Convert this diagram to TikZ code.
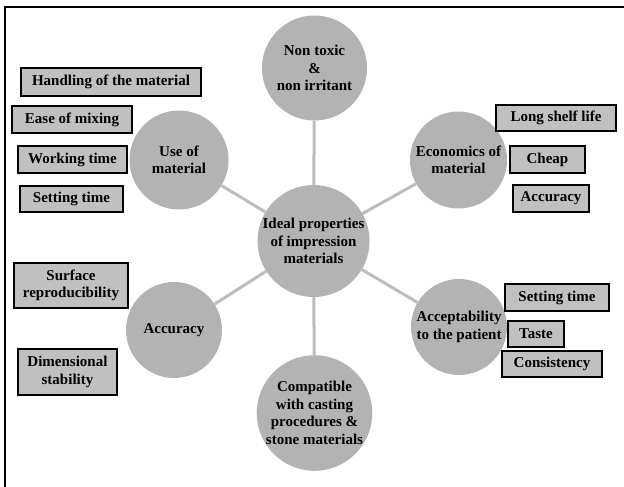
\documentclass[tikz,border=0pt]{standalone}
\usepackage{fontspec}
\setmainfont{Liberation Serif}[BoldFont={Liberation Serif Bold}]
\newfontfamily\tnrbold{Liberation Serif Bold}
\definecolor{circfill}{HTML}{B3B3B3}
\definecolor{boxfill}{HTML}{C0C0C0}
\definecolor{linkcol}{HTML}{BDBDBD}
\tikzset{
  bubble/.style={circle, fill=circfill, inner sep=0pt, align=center,
    font=\fontsize{15}{17.5}\selectfont\tnrbold},
  tag/.style={draw=black, line width=1.2pt, fill=boxfill, inner sep=0pt, align=center,
    font=\fontsize{15}{17.3}\selectfont\tnrbold},
  link/.style={draw=linkcol, line width=3pt}
}
\begin{document}
\begin{tikzpicture}[x=1pt,y=-1pt]
\useasboundingbox (0,0) rectangle (624,487);
\draw[line width=1.5pt] (5,487) coordinate (bl) -- (5,7) coordinate (tl) -- (624,7) coordinate (tr);

\node[bubble, minimum size=112pt] (c) at (313.5,241) {Ideal properties\\of impression\\materials};
\node[bubble, minimum size=105pt] (top) at (314.5,68) {Non toxic\\\&\\non irritant};
\node[bubble, minimum size=115pt] (bot) at (314.5,413) {Compatible\\with casting\\procedures \&\\stone materials};
\node[bubble, minimum size=99pt] (use) at (179,160) {Use of\\material};
\node[bubble, minimum size=97pt] (eco) at (458.5,160) {Economics of\\material};
\node[bubble, minimum size=96pt] (acc) at (174,330) {Accuracy};
\node[bubble, minimum size=96pt] (pat) at (459,327) {Acceptability\\to the patient};

\draw[link] (c) -- (top);
\draw[link] (c) -- (bot);
\draw[link] (c) -- (use);
\draw[link] (c) -- (eco);
\draw[link] (c) -- (acc);
\draw[link] (c) -- (pat);

\node[tag, minimum width=180pt, minimum height=28pt] (h1) at (111,82) {Handling of the material};
\node[tag, minimum width=120pt, minimum height=27pt] (h2) at (72,119.5) {Ease of mixing};
\node[tag, minimum width=109pt, minimum height=27pt] (h3) at (72.5,159.5) {Working time};
\node[tag, minimum width=103pt, minimum height=26pt] (h4) at (71.5,199) {Setting time};

\node[tag, minimum width=120pt, minimum height=26pt] (e1) at (556,118) {Long shelf life};
\node[tag, minimum width=75pt, minimum height=27pt] (e2) at (547.5,159.5) {Cheap};
\node[tag, minimum width=76pt, minimum height=27pt] (e3) at (551,198.5) {Accuracy};

\node[tag, minimum width=114pt, minimum height=45pt] (a1) at (71,285.5) {Surface\\reproducibility};
\node[tag, minimum width=99pt, minimum height=46pt] (a2) at (67.5,372) {Dimensional\\stability};

\node[tag, minimum width=104pt, minimum height=27pt] (p1) at (557,297.5) {Setting time};
\node[tag, minimum width=56pt, minimum height=26pt] (p2) at (536,334) {Taste};
\node[tag, minimum width=100pt, minimum height=26pt] (p3) at (552,364) {Consistency};
\end{tikzpicture}
\end{document}
